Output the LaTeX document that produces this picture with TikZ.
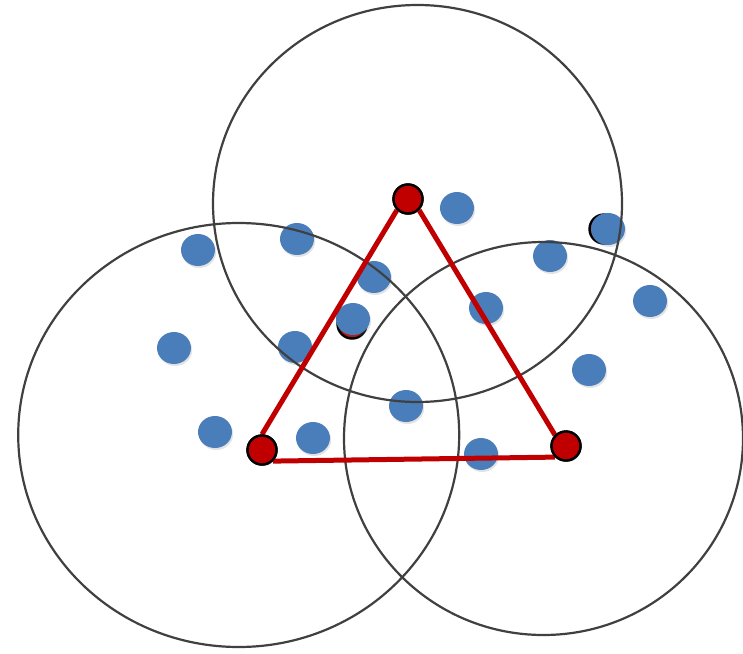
\documentclass[tikz,border=0pt]{standalone}
\usetikzlibrary{shapes.geometric,shadows}
\definecolor{dotblue}{HTML}{4A7EBB}
\definecolor{dotred}{HTML}{C00000}
\definecolor{ringgray}{HTML}{404040}
\tikzset{
  bluedot/.style={ellipse, fill=dotblue, minimum width=34pt, minimum height=32pt, inner sep=0pt,
    drop shadow={opacity=0.22, shadow xshift=1.2pt, shadow yshift=-2pt}},
  reddot/.style={circle, fill=dotred, draw=black, line width=2.4pt, minimum size=29pt, inner sep=0pt,
    drop shadow={opacity=0.18, shadow xshift=1pt, shadow yshift=-1.5pt}},
  ring/.style={draw=ringgray, line width=2.2pt},
  edge/.style={draw=dotred, line width=5pt}
}
\begin{document}
\begin{tikzpicture}[x=1pt,y=-1pt]
\useasboundingbox (0,0) rectangle (743,653);
% hidden dots under blue ones
\node[reddot] (h1) at (352,324) {};
\node[reddot] (h2) at (604,229) {};
% blue dots
\node[bluedot] (b1) at (198,250) {};
\node[bluedot] (b2) at (297,239) {};
\node[bluedot] (b3) at (457,208) {};
\node[bluedot] (b4) at (608,229) {};
\node[bluedot] (b5) at (550,256) {};
\node[bluedot] (b6) at (650,301) {};
\node[bluedot] (b7) at (374,277) {};
\node[bluedot] (b8) at (486,308) {};
\node[bluedot] (b9) at (353,319) {};
\node[bluedot] (b10) at (295,347) {};
\node[bluedot] (b11) at (174,348) {};
\node[bluedot] (b12) at (589,370) {};
\node[bluedot] (b13) at (406,406) {};
\node[bluedot] (b14) at (215,432) {};
\node[bluedot] (b15) at (313,438) {};
\node[bluedot] (b16) at (481,454) {};
% big circles
\draw[ring] (417.5,203.5) ellipse [x radius=204.5, y radius=198.5];
\draw[ring] (238.7,435) ellipse [x radius=220.5, y radius=212];
\draw[ring] (543.5,438.5) ellipse [x radius=199.5, y radius=196.5];
% red vertices
\node[reddot] (T) at (408,199) {};
\node[reddot] (L) at (262,450) {};
\node[reddot] (R) at (566,446) {};
% triangle edges
\draw[edge] (T.south west) -- (L.north);
\draw[edge] (T.south east) -- (R.north west);
\draw[edge] (L.south east) -- (R.south west);
% redraw vertices on top of edges
\node[reddot] at (T) {};
\node[reddot] at (L) {};
\node[reddot] at (R) {};
\end{tikzpicture}
\end{document}
